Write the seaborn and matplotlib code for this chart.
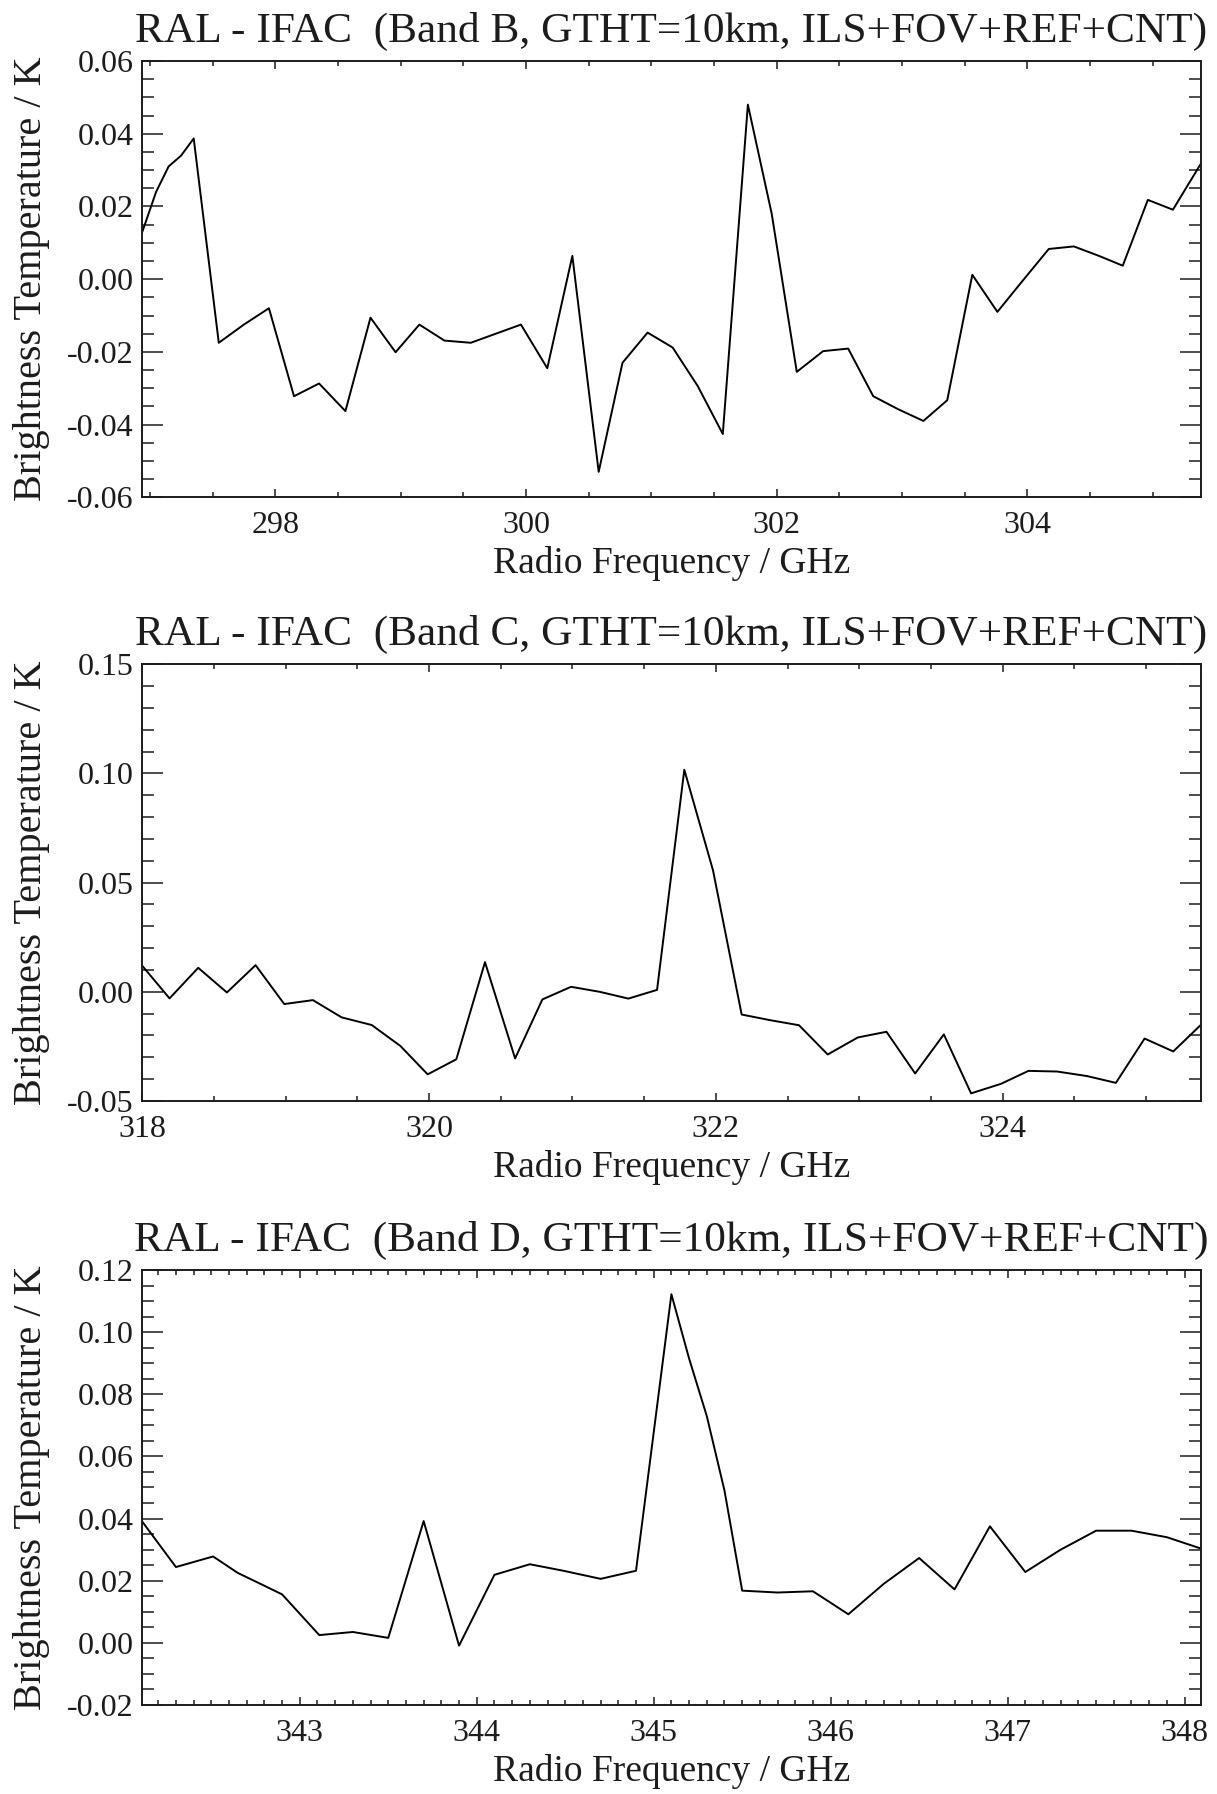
import numpy as np
import pandas as pd
import matplotlib
matplotlib.use("Agg")
import matplotlib.pyplot as plt
from matplotlib.ticker import MultipleLocator, FormatStrFormatter
import seaborn as sns

# ---------------- data ----------------
band_b_freq = [296.94, 297.05, 297.15, 297.25, 297.35, 297.55, 297.75, 297.95, 298.15, 298.35,
               298.56, 298.76, 298.96, 299.15, 299.35, 299.56, 299.76, 299.96, 300.17, 300.37,
               300.58, 300.77, 300.97, 301.17, 301.37, 301.57, 301.77, 301.96, 302.16, 302.37,
               302.57, 302.77, 302.97, 303.17, 303.36, 303.56, 303.76, 303.96, 304.17, 304.37,
               304.57, 304.76, 304.96, 305.16, 305.38]
band_b_tb = [0.013, 0.024, 0.031, 0.034, 0.0387, -0.0175, -0.0125, -0.008, -0.0322, -0.0287,
             -0.0363, -0.0106, -0.0201, -0.0125, -0.0169, -0.0175, -0.015, -0.0125, -0.0245, 0.0064,
             -0.053, -0.023, -0.0147, -0.0188, -0.0294, -0.0426, 0.048, 0.018, -0.0255, -0.0198,
             -0.0191, -0.0322, -0.0358, -0.039, -0.0333, 0.0012, -0.009, -0.0005, 0.0083, 0.009,
             0.0064, 0.0037, 0.0218, 0.0191, 0.0316]

band_c_freq = [318.0, 318.19, 318.39, 318.59, 318.79, 318.99, 319.19, 319.39, 319.6, 319.8,
               319.99, 320.19, 320.39, 320.6, 320.79, 320.99, 321.19, 321.39, 321.59, 321.78,
               321.98, 322.18, 322.38, 322.58, 322.78, 322.99, 323.19, 323.39, 323.59, 323.78,
               323.99, 324.18, 324.38, 324.59, 324.79, 324.99, 325.19, 325.38]
band_c_tb = [0.0119, -0.003, 0.011, -0.0003, 0.0122, -0.0056, -0.0038, -0.0117, -0.0152, -0.0248,
             -0.0378, -0.0309, 0.0136, -0.0305, -0.0035, 0.0023, 0.0, -0.0031, 0.0009, 0.1017,
             0.0557, -0.0104, -0.013, -0.0153, -0.0287, -0.0209, -0.0183, -0.0374, -0.0195, -0.0465,
             -0.0421, -0.0362, -0.0365, -0.0386, -0.0417, -0.0214, -0.0273, -0.0153]

band_d_freq = [342.11, 342.3, 342.51, 342.65, 342.81, 342.9, 343.11, 343.3, 343.5, 343.7,
               343.9, 344.1, 344.3, 344.49, 344.7, 344.9, 345.1, 345.2, 345.3, 345.4,
               345.5, 345.7, 345.9, 346.1, 346.3, 346.5, 346.7, 346.9, 347.1, 347.3,
               347.5, 347.7, 347.9, 348.09]
band_d_tb = [0.039, 0.0244, 0.0278, 0.0225, 0.0181, 0.0156, 0.0025, 0.0035, 0.0016, 0.0392,
             -0.0009, 0.0219, 0.0253, 0.0232, 0.0206, 0.0232, 0.1122, 0.0915, 0.073, 0.049,
             0.0168, 0.0162, 0.0166, 0.0092, 0.019, 0.0273, 0.0172, 0.0375, 0.0228, 0.030,
             0.0361, 0.0361, 0.034, 0.0304]

band_names = ["B", "C", "D"]
title_fmt = "RAL - IFAC  (Band {}, GTHT=10km, ILS+FOV+REF+CNT)"
x_label = "Radio Frequency / GHz"
y_label = "Brightness Temperature / K"

# ---------------- style ----------------
sns.set_style("ticks")
plt.rcParams["font.family"] = ["Liberation Serif", "DejaVu Serif"]
plt.rcParams["axes.unicode_minus"] = False
ink = "#1c1c1c"
plt.rcParams["text.color"] = ink
plt.rcParams["axes.labelcolor"] = ink
plt.rcParams["xtick.color"] = ink
plt.rcParams["ytick.color"] = ink
plt.rcParams["axes.edgecolor"] = ink

W, H = 1217, 1794
fig = plt.figure(figsize=(W / 100, H / 100), dpi=100)
fig.patch.set_facecolor("white")

def rect(top_px, bot_px, left_px=142.3, right_px=1200.5):
    return [left_px / W, 1 - bot_px / H, (right_px - left_px) / W, (bot_px - top_px) / H]

panels = [
    dict(freq=band_b_freq, tb=band_b_tb, rect=rect(61, 497.3), xlim=(296.94, 305.38),
         ylim=(-0.06, 0.06), xmaj=2, xmin=0.5, ymaj=0.02, ymin=0.005),
    dict(freq=band_c_freq, tb=band_c_tb, rect=rect(664.3, 1101), xlim=(318.0, 325.38),
         ylim=(-0.05, 0.15), xmaj=2, xmin=0.5, ymaj=0.05, ymin=0.01),
    dict(freq=band_d_freq, tb=band_d_tb, rect=rect(1270, 1705), xlim=(342.11, 348.09),
         ylim=(-0.02, 0.12), xmaj=1, xmin=0.1, ymaj=0.02, ymin=0.005),
]

for name, p in zip(band_names, panels):
    ax = fig.add_axes(p["rect"])
    df = pd.DataFrame({"freq": p["freq"], "tb": p["tb"]})
    sns.lineplot(data=df, x="freq", y="tb", ax=ax, color="black", linewidth=1.4,
                 estimator=None, sort=False)
    ax.set_xlim(*p["xlim"])
    ax.set_ylim(*p["ylim"])
    ax.xaxis.set_major_locator(MultipleLocator(p["xmaj"]))
    ax.xaxis.set_minor_locator(MultipleLocator(p["xmin"]))
    ax.yaxis.set_major_locator(MultipleLocator(p["ymaj"]))
    ax.yaxis.set_minor_locator(MultipleLocator(p["ymin"]))
    ax.xaxis.set_major_formatter(FormatStrFormatter("%d"))
    ax.yaxis.set_major_formatter(FormatStrFormatter("%.2f"))
    for s in ax.spines.values():
        s.set_visible(True)
        s.set_linewidth(1.4)
    ax.tick_params(which="both", direction="in", top=True, right=True, width=1.1)
    ax.tick_params(axis="x", which="major", length=6, pad=10, labelsize=23)
    ax.tick_params(axis="x", which="minor", length=3.5)
    ax.tick_params(axis="y", which="major", length=15, pad=6, labelsize=23)
    ax.tick_params(axis="y", which="minor", length=8.5)
    ax.set_xlabel(x_label, fontsize=27)
    ax.set_ylabel(y_label, fontsize=29)
    ax.xaxis.set_label_coords(0.5, -0.112)
    ax.yaxis.set_label_coords(-0.087, 0.5)
    ax.set_title(title_fmt.format(name), fontsize=31.2, pad=13.7)

fig.savefig("out.png", dpi=100, facecolor="white")
